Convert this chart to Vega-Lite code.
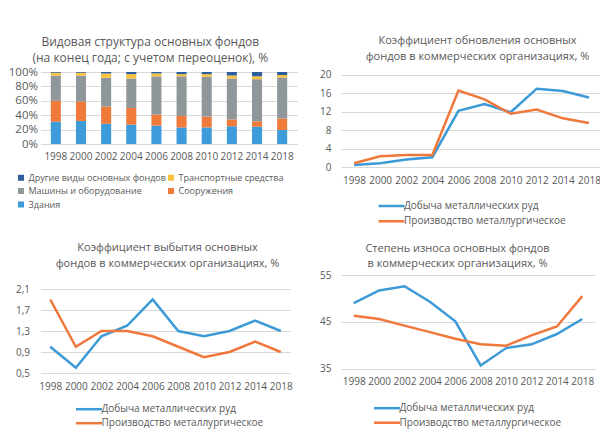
{
  "$schema": "https://vega.github.io/schema/vega-lite/v6.json",
  "background": "white",
  "autosize": {"type": "pad"},
  "padding": {"left": 7.5, "top": 35, "right": 0, "bottom": 0},
  "config": {
    "font": "Open Sans",
    "view": {"stroke": null},
    "axis": {"labelColor": "#595959", "labelFont": "Open Sans", "gridColor": "#D9D9D9", "gridWidth": 1, "domain": false, "ticks": false, "title": null},
    "title": {"color": "#595959", "fontWeight": "normal", "fontSize": 12, "font": "Open Sans", "lineHeight": 16, "frame": "group"},
    "legend": {"labelColor": "#595959", "labelFont": "Open Sans", "title": null, "orient": "none", "padding": 0, "labelLimit": 400}
  },
  "resolve": {"scale": {"color": "independent"}, "legend": {"color": "independent"}},
  "datasets": {
    "bars": [
      {"year": "1998", "type": "Здания", "value": 31},
      {"year": "1998", "type": "Сооружения", "value": 29},
      {"year": "1998", "type": "Машины и оборудование", "value": 35},
      {"year": "1998", "type": "Транспортные средства", "value": 4},
      {"year": "1998", "type": "Другие виды основных фондов", "value": 1},
      {"year": "2000", "type": "Здания", "value": 32},
      {"year": "2000", "type": "Сооружения", "value": 27},
      {"year": "2000", "type": "Машины и оборудование", "value": 36},
      {"year": "2000", "type": "Транспортные средства", "value": 4},
      {"year": "2000", "type": "Другие виды основных фондов", "value": 1},
      {"year": "2002", "type": "Здания", "value": 28},
      {"year": "2002", "type": "Сооружения", "value": 24},
      {"year": "2002", "type": "Машины и оборудование", "value": 40},
      {"year": "2002", "type": "Транспортные средства", "value": 6},
      {"year": "2002", "type": "Другие виды основных фондов", "value": 2},
      {"year": "2004", "type": "Здания", "value": 27},
      {"year": "2004", "type": "Сооружения", "value": 23},
      {"year": "2004", "type": "Машины и оборудование", "value": 41},
      {"year": "2004", "type": "Транспортные средства", "value": 6},
      {"year": "2004", "type": "Другие виды основных фондов", "value": 3},
      {"year": "2006", "type": "Здания", "value": 25.5},
      {"year": "2006", "type": "Сооружения", "value": 15.5},
      {"year": "2006", "type": "Машины и оборудование", "value": 53},
      {"year": "2006", "type": "Транспортные средства", "value": 4},
      {"year": "2006", "type": "Другие виды основных фондов", "value": 2},
      {"year": "2008", "type": "Здания", "value": 23},
      {"year": "2008", "type": "Сооружения", "value": 16},
      {"year": "2008", "type": "Машины и оборудование", "value": 55},
      {"year": "2008", "type": "Транспортные средства", "value": 3},
      {"year": "2008", "type": "Другие виды основных фондов", "value": 3},
      {"year": "2010", "type": "Здания", "value": 23},
      {"year": "2010", "type": "Сооружения", "value": 15},
      {"year": "2010", "type": "Машины и оборудование", "value": 55.5},
      {"year": "2010", "type": "Транспортные средства", "value": 3.5},
      {"year": "2010", "type": "Другие виды основных фондов", "value": 3},
      {"year": "2012", "type": "Здания", "value": 24.5},
      {"year": "2012", "type": "Сооружения", "value": 9.5},
      {"year": "2012", "type": "Машины и оборудование", "value": 57},
      {"year": "2012", "type": "Транспортные средства", "value": 4},
      {"year": "2012", "type": "Другие виды основных фондов", "value": 5},
      {"year": "2014", "type": "Здания", "value": 24},
      {"year": "2014", "type": "Сооружения", "value": 7.5},
      {"year": "2014", "type": "Машины и оборудование", "value": 58.5},
      {"year": "2014", "type": "Транспортные средства", "value": 4},
      {"year": "2014", "type": "Другие виды основных фондов", "value": 6},
      {"year": "2018", "type": "Здания", "value": 19.5},
      {"year": "2018", "type": "Сооружения", "value": 16},
      {"year": "2018", "type": "Машины и оборудование", "value": 57},
      {"year": "2018", "type": "Транспортные средства", "value": 3.5},
      {"year": "2018", "type": "Другие виды основных фондов", "value": 4}
    ],
    "lines": [
      {"year": "1998", "series": "Добыча металлических руд", "obn": 0.5, "vyb": 1.0, "izn": 49.0},
      {"year": "2000", "series": "Добыча металлических руд", "obn": 0.9, "vyb": 0.6, "izn": 51.7},
      {"year": "2002", "series": "Добыча металлических руд", "obn": 1.7, "vyb": 1.2, "izn": 52.6},
      {"year": "2004", "series": "Добыча металлических руд", "obn": 2.2, "vyb": 1.4, "izn": 49.3},
      {"year": "2006", "series": "Добыча металлических руд", "obn": 12.2, "vyb": 1.9, "izn": 45.1},
      {"year": "2008", "series": "Добыча металлических руд", "obn": 13.7, "vyb": 1.3, "izn": 35.7},
      {"year": "2010", "series": "Добыча металлических руд", "obn": 11.9, "vyb": 1.2, "izn": 39.4},
      {"year": "2012", "series": "Добыча металлических руд", "obn": 17.0, "vyb": 1.3, "izn": 40.2},
      {"year": "2014", "series": "Добыча металлических руд", "obn": 16.5, "vyb": 1.5, "izn": 42.4},
      {"year": "2018", "series": "Добыча металлических руд", "obn": 15.1, "vyb": 1.3, "izn": 45.6},
      {"year": "1998", "series": "Производство металлургическое", "obn": 0.9, "vyb": 1.9, "izn": 46.3},
      {"year": "2000", "series": "Производство металлургическое", "obn": 2.4, "vyb": 1.0, "izn": 45.6},
      {"year": "2002", "series": "Производство металлургическое", "obn": 2.7, "vyb": 1.3, "izn": 44.2},
      {"year": "2004", "series": "Производство металлургическое", "obn": 2.7, "vyb": 1.3, "izn": 42.8},
      {"year": "2006", "series": "Производство металлургическое", "obn": 16.6, "vyb": 1.2, "izn": 41.4},
      {"year": "2008", "series": "Производство металлургическое", "obn": 14.7, "vyb": 1.0, "izn": 40.2},
      {"year": "2010", "series": "Производство металлургическое", "obn": 11.6, "vyb": 0.8, "izn": 39.9},
      {"year": "2012", "series": "Производство металлургическое", "obn": 12.5, "vyb": 0.9, "izn": 42.1},
      {"year": "2014", "series": "Производство металлургическое", "obn": 10.6, "vyb": 1.1, "izn": 44.0},
      {"year": "2018", "series": "Производство металлургическое", "obn": 9.6, "vyb": 0.9, "izn": 50.5}
    ]
  },
  "columns": 2,
  "bounds": "flush",
  "align": "each",
  "spacing": {"row": 107, "column": 43.5},
  "concat": [
    {
      "width": 257,
      "height": 72,
      "title": {"text": ["Видовая структура основных фондов", "(на конец года; с учетом переоценок), %"], "offset": 1, "dx": -18.7},
      "data": {"name": "bars"},
      "transform": [
        {"calculate": "indexof(['Здания','Сооружения','Машины и оборудование','Транспортные средства','Другие виды основных фондов'], datum.type)", "as": "ord"}
      ],
      "mark": {"type": "bar"},
      "encoding": {
        "x": {"field": "year", "type": "ordinal", "scale": {"paddingInner": 0.6, "paddingOuter": 0.41}, "axis": {"labelAngle": 0, "labelFontSize": 10, "labelPadding": 7, "grid": false}},
        "y": {"field": "value", "type": "quantitative", "stack": "normalize", "scale": {"domain": [0, 1]}, "axis": {"values": [0, 0.2, 0.4, 0.6, 0.8, 1], "format": ".0%", "labelFontSize": 11.5, "labelPadding": 3}},
        "color": {
          "field": "type", "type": "nominal",
          "scale": {
            "domain": ["Другие виды основных фондов", "Транспортные средства", "Машины и оборудование", "Сооружения", "Здания"],
            "range": ["#2D5E9A", "#F9C23E", "#90979B", "#F07A3A", "#3D9BDA"]
          },
          "legend": {"legendX": -24, "legendY": 101, "columns": 2, "direction": "horizontal", "symbolType": "square", "symbolSize": 36, "labelFontSize": 9, "columnPadding": 0, "rowPadding": 3.5, "labelOffset": 3}
        },
        "order": {"field": "ord", "type": "quantitative"}
      }
    },
    {
      "width": 261,
      "height": 95.4,
      "title": {"text": ["Коэффициент обновления основных", "фондов в коммерческих организациях,  %"], "fontSize": 11, "offset": 7.5, "dx": 6},
      "data": {"name": "lines"},
      "mark": {"type": "line", "strokeWidth": 2.5},
      "encoding": {
        "x": {"field": "year", "type": "ordinal", "scale": {"type": "point", "padding": 0.5}, "axis": {"labelAngle": 0, "labelFontSize": 10, "labelPadding": 8, "grid": false}},
        "y": {"field": "obn", "type": "quantitative", "scale": {"domain": [0, 20.6], "nice": false}, "axis": {"values": [0, 4, 8, 12, 16, 20], "labelFontSize": 10, "labelPadding": 10}},
        "color": {
          "field": "series", "type": "nominal",
          "scale": {"domain": ["Добыча металлических руд", "Производство металлургическое"], "range": ["#3C9AD6", "#F0783C"]},
          "legend": {"legendX": 44, "legendY": 127.5, "direction": "vertical", "symbolType": "M-2.6,0H2.6", "symbolSize": 100, "symbolStrokeWidth": 2.5, "labelFontSize": 10, "labelOffset": 6, "rowPadding": 3.3}
        }
      }
    },
    {
      "width": 250,
      "height": 98,
      "title": {"text": ["Коэффициент выбытия основных", "фондов в коммерческих организациях, %"], "fontSize": 11, "offset": 6, "dx": 2},
      "data": {"name": "lines"},
      "mark": {"type": "line", "strokeWidth": 2.5},
      "encoding": {
        "x": {"field": "year", "type": "ordinal", "scale": {"type": "point", "padding": 0.38}, "axis": {"labelAngle": 0, "labelFontSize": 10, "labelPadding": 8, "grid": false}},
        "y": {"field": "vyb", "type": "quantitative", "scale": {"domain": [0.5, 2.3667], "nice": false}, "axis": {"values": [0.5, 0.9, 1.3, 1.7, 2.1], "labelExpr": "replace(format(datum.value, '.1f'), '.', ',')", "labelFontSize": 10, "labelPadding": 11}},
        "color": {
          "field": "series", "type": "nominal",
          "scale": {"domain": ["Добыча металлических руд", "Производство металлургическое"], "range": ["#3C9AD6", "#F0783C"]},
          "legend": {"legendX": 42, "legendY": 127.7, "direction": "vertical", "symbolType": "M-2.6,0H2.6", "symbolSize": 100, "symbolStrokeWidth": 2.5, "labelFontSize": 10, "labelOffset": 6, "rowPadding": 2}
        }
      }
    },
    {
      "width": 254,
      "height": 93.7,
      "title": {"text": ["Степень износа основных фондов", "в коммерческих организациях, %"], "fontSize": 11, "lineHeight": 15, "offset": 1, "dx": -10.5},
      "data": {"name": "lines"},
      "mark": {"type": "line", "strokeWidth": 2.5},
      "encoding": {
        "x": {"field": "year", "type": "ordinal", "scale": {"type": "point", "padding": 0.5}, "axis": {"labelAngle": 0, "labelFontSize": 10, "labelPadding": 8, "grid": false}},
        "y": {"field": "izn", "type": "quantitative", "scale": {"domain": [35, 55], "nice": false}, "axis": {"values": [35, 45, 55], "labelFontSize": 10, "labelPadding": 10}},
        "color": {
          "field": "series", "type": "nominal",
          "scale": {"domain": ["Добыча металлических руд", "Производство металлургическое"], "range": ["#3C9AD6", "#F0783C"]},
          "legend": {"legendX": 39.5, "legendY": 126.7, "direction": "vertical", "symbolType": "M-2.6,0H2.6", "symbolSize": 100, "symbolStrokeWidth": 2.5, "labelFontSize": 10, "labelOffset": 6, "rowPadding": 2.5}
        }
      }
    }
  ]
}
